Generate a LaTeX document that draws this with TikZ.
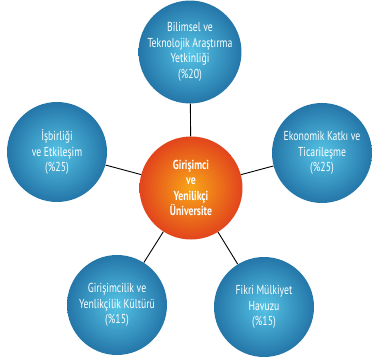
\documentclass[tikz,border=0pt]{standalone}
\usepackage{fontspec}
\setmainfont[FakeStretch=0.75]{PT Sans}
\usepackage{tikz}
\usetikzlibrary{shadings}
\definecolor{pilin}{RGB}{86,196,230}
\definecolor{pilout}{RGB}{36,118,168}
\definecolor{hubin}{RGB}{248,166,24}
\definecolor{hubout}{RGB}{226,68,28}
\tikzset{
  pillar/.style={circle,minimum size=100pt,inner sep=0pt,align=center,
    text=white,font=\fontsize{13}{15.5}\selectfont,
    inner color=pilin,outer color=pilout},
  hub/.style={pillar,minimum size=103pt,inner color=hubin,outer color=hubout,
    font=\bfseries\fontsize{13}{15.5}\selectfont},
  spoke/.style={draw=black,line width=.9pt}
}
\newcommand{\pillar}[3]{%
  \node[pillar] (#1) at (#2) {#3};
}

\begin{document}
\begin{tikzpicture}[x=1pt,y=-1pt]
  \useasboundingbox (0,0) rectangle (372,358);
  \node[hub] (hub) at (191,188) {Girişimci\\ve\\Yenilikçi\\Üniversite};
  \pillar{bilim}{190,52}{Bilimsel ve\\Teknolojik Araştırma\\Yetkinliği\\(\%20)}
  \pillar{isbir}{57,152}{İşbirliği\\ve Etkileşim\\(\%25)}
  \pillar{ekon}{322,153}{Ekonomik Katkı ve\\Ticarileşme\\(\%25)}
  \pillar{kultur}{117,305}{Girişimcilik ve\\Yenlikçilik Kültürü\\(\%15)}
  \pillar{fikri}{264,307}{Fikri Mülkiyet\\Havuzu\\(\%15)}
  \foreach \p in {bilim,isbir,ekon,kultur,fikri}
    \draw[spoke] (hub) -- (\p);
\end{tikzpicture}
\end{document}
